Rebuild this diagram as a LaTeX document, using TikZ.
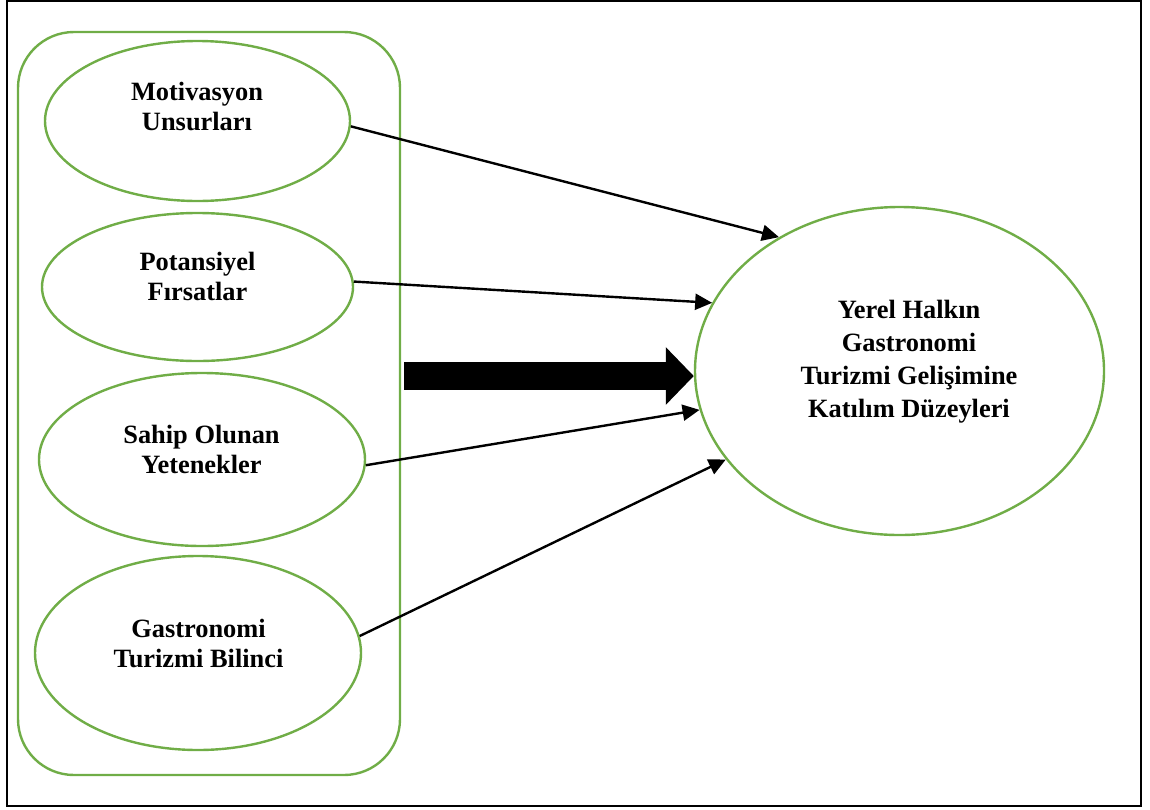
\documentclass[tikz,border=0pt]{standalone}
\usepackage{fontspec}
\setmainfont{Liberation Serif}
\usetikzlibrary{shapes.geometric,arrows.meta}
\definecolor{boxgreen}{HTML}{70AD47}

\begin{document}
\begin{tikzpicture}[x=0.5pt,y=-0.5pt,
        group node/.style={rectangle,draw=boxgreen,line width=1.2pt,rounded corners=28pt,inner sep=0pt},
        factor node/.style={ellipse,draw=boxgreen,line width=1.2pt,inner sep=0pt},
        text node/.style={anchor=base,align=center,font=\bfseries\fontsize{13.2}{15}\selectfont,inner sep=0pt},
        link/.style={line width=1.2pt,-{Triangle[length=8.5pt,width=8pt]}},
        big link/.style={line width=14pt,-{Triangle[length=14pt,width=28pt]}}]

    \useasboundingbox (0,0) rectangle (1150,809);
    \draw[line width=1.4pt] (7,1) rectangle (1141,806);

    \node[group node,minimum width=191pt,minimum height=371.5pt] (0) at (209,403.5) {};

    \node[factor node,minimum width=152.5pt,minimum height=80pt] (1) at (197.5,121) {};
    \node[factor node,minimum width=155.5pt,minimum height=74pt] (2) at (197.5,287) {};
    \node[factor node,minimum width=163pt,minimum height=86.5pt] (3) at (202,459.5) {};
    \node[factor node,minimum width=163pt,minimum height=97pt] (4) at (198,653) {};
    \node[factor node,minimum width=204.5pt,minimum height=164pt] (5) at (899.5,371) {};

    % texts (anchored at the baseline of the last line)
    \node[text node] (1t) at (197,130) {Motivasyon\\Unsurları};
    \node[text node] (2t) at (197.5,300) {Potansiyel\\Fırsatlar};
    \node[text node] (3t) at (201.5,473) {Sahip Olunan\\Yetenekler};
    \node[text node] (4t) at (198.5,667) {Gastronomi\\Turizmi Bilinci};
    \node[text node,font=\bfseries\fontsize{13.2}{16.5}\selectfont] (5t) at (909,417)
        {Yerel Halkın\\Gastronomi\\Turizmi Gelişimine\\Katılım Düzeyleri};

    \path[link]
    (1.-2) edge (5.132)
    (2.2) edge (5.160)
    (3.-2) edge (5.191)
    (4.6) edge (5.207);

    \draw[big link] ([xshift=1.5pt]0.east |- 0,376) -- (5.west |- 0,376);
\end{tikzpicture}
\end{document}
